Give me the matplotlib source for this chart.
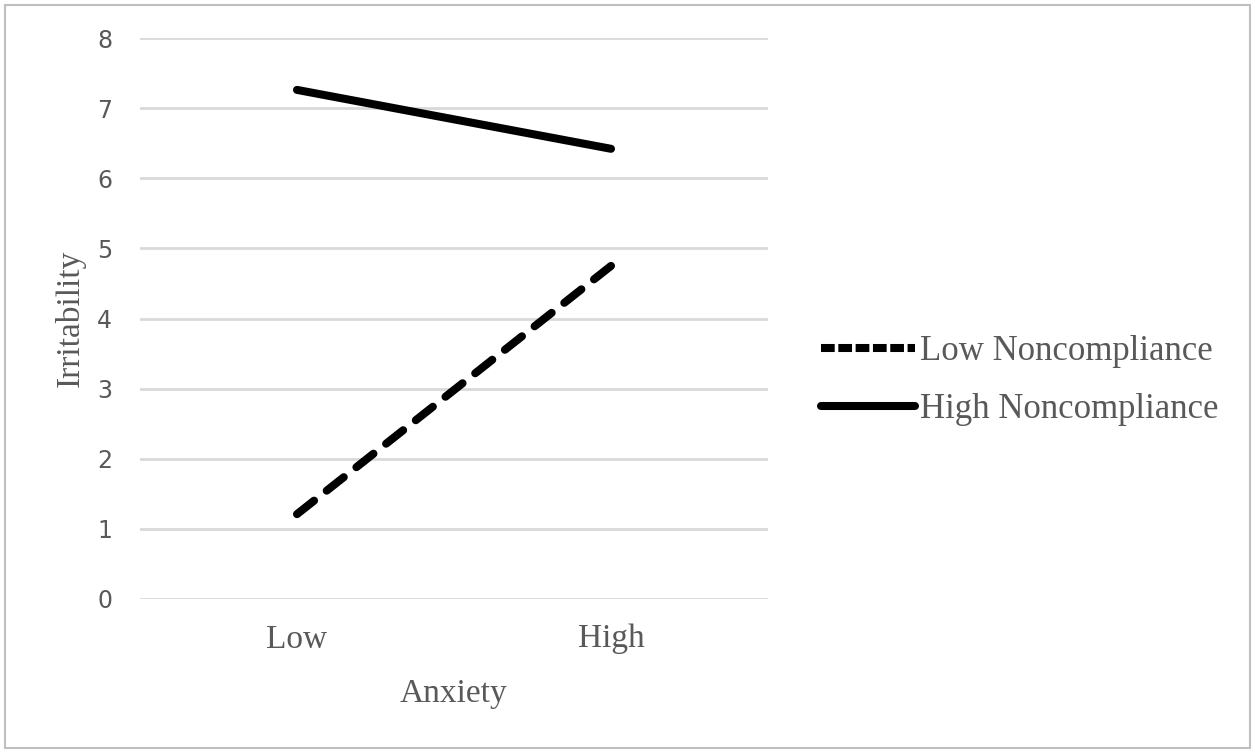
import matplotlib
matplotlib.use("Agg")
import matplotlib.pyplot as plt
from matplotlib.lines import Line2D
from matplotlib.patches import Rectangle

# data
categories = ["Low", "High"]
low_noncompliance = [1.21, 4.75]
high_noncompliance = [7.26, 6.42]
series_names = ["Low Noncompliance", "High Noncompliance"]
y_ticks = [0, 1, 2, 3, 4, 5, 6, 7, 8]

GRID = "#d9d9d9"
TXT = "#595959"
SERIF = "Liberation Serif"

fig = plt.figure(figsize=(12.55, 7.53), dpi=100)
ax = fig.add_axes([140 / 1255, 1 - 599 / 753, (768 - 140) / 1255, (599 - 38) / 753])

x = list(range(len(categories)))
ax.plot(x, low_noncompliance, color="black", lw=5.8,
        linestyle=(0, (2.7, 2.0)), dash_capstyle="round")
ax.plot(x, high_noncompliance, color="black", lw=5.8, solid_capstyle="round")

ax.set_xlim(-0.5, 1.5)
ax.set_ylim(0, 8)
ax.set_yticks(y_ticks)
ax.set_xticks(x)
ax.set_xticklabels(categories, family=SERIF, fontsize=24, color=TXT)
for lab in ax.get_yticklabels():
    lab.set_family("DejaVu Sans")
    lab.set_fontsize(17)
    lab.set_color(TXT)
ax.tick_params(axis="y", length=0, pad=20)
ax.tick_params(axis="x", length=0, pad=18)
ax.grid(axis="y", color=GRID, lw=2.0)
ax.set_axisbelow(True)
for s in ax.spines.values():
    s.set_visible(False)

ax.set_ylabel("Irritability", family=SERIF, fontsize=24, color=TXT)
ax.yaxis.set_label_coords(-0.086, 0.5)
ax.set_xlabel("Anxiety", family=SERIF, fontsize=24, color=TXT, labelpad=17)

# legend handles (Excel draws the dashed one denser)
h1 = Line2D([], [], color="black", lw=5.8, linestyle=(0, (1.7, 0.45)))
h2 = Line2D([], [], color="black", lw=5.8, solid_capstyle="round")
leg = fig.legend(handles=[h1, h2], labels=series_names, loc="center left",
                 bbox_to_anchor=(790 / 1255, 1 - 381 / 753), frameon=False,
                 prop={"family": SERIF, "size": 25}, handlelength=2.7,
                 handletextpad=0.15, labelspacing=0.72)
for t in leg.get_texts():
    t.set_color(TXT)

# outer border of the chart area
fig.patches.append(Rectangle((5 / 1255, 5 / 753), 1 - 10 / 1255, 1 - 10 / 753,
                             transform=fig.transFigure, fill=False,
                             edgecolor="#bfbfbf", lw=1.5))

fig.savefig("out.png", dpi=100)
